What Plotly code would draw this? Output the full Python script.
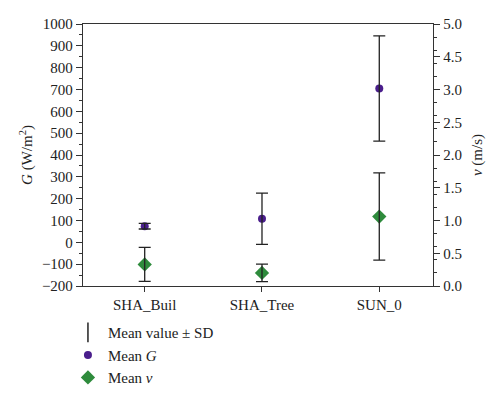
import plotly.graph_objects as go

categories = ["SHA_Buil", "SHA_Tree", "SUN_0"]
g_mean = [74, 108, 705]
g_sd = [13, 117, 241]
v_mean = [0.33, 0.20, 1.06]
v_sd = [0.26, 0.133, 0.666]

v_tickvals = [0, 0.5, 1.0, 1.5, 2.0, 2.5, 3.0, 3.5, 4.0]
v_ticktext = ["0.0", "0.5", "1.0", "1.5", "2.0", "2.5", "3.0", "4.5", "5.0"]

FONT = "Liberation Serif"
PURPLE = "#4a1e8c"
GREEN = "#2e8b3c"
BAR = "#222222"
FS = 15

fig = go.Figure()

fig.add_trace(go.Scatter(x=categories, y=g_mean, mode="markers", name="Mean <i>G</i>",
                         marker=dict(color=PURPLE, size=8, symbol="circle"),
                         yaxis="y", legendrank=2))
fig.add_trace(go.Scatter(x=categories, y=v_mean, mode="markers", name="Mean <i>v</i>",
                         marker=dict(color=GREEN, size=11, symbol="diamond"),
                         yaxis="y2", legendrank=3))
# error bars drawn on top of markers
fig.add_trace(go.Scatter(x=categories, y=g_mean, mode="markers", name="Mean value ± SD",
                         marker=dict(color=BAR, size=12, opacity=0),
                         error_y=dict(type="data", array=g_sd, visible=True, color=BAR,
                                      thickness=1.3, width=6),
                         yaxis="y", showlegend=False, hoverinfo="skip"))
fig.add_trace(go.Scatter(x=categories, y=v_mean, mode="markers", name="Mean value ± SD",
                         marker=dict(color=BAR, size=12, opacity=0),
                         error_y=dict(type="data", array=v_sd, visible=True, color=BAR,
                                      thickness=1.3, width=6),
                         yaxis="y2", showlegend=False, hoverinfo="skip"))
# legend entry for error bars
fig.add_trace(go.Scatter(x=[None], y=[None], mode="markers", name="Mean value ± SD",
                         marker=dict(color=BAR, size=14, symbol="line-ns-open",
                                     line=dict(width=1.5, color=BAR)),
                         legendrank=1))

axis_common = dict(showline=True, linecolor="#333333", linewidth=1.3,
                   ticks="outside", tickcolor="#333333", showgrid=False,
                   zeroline=False, tickfont=dict(size=FS), automargin=False)

fig.update_layout(
    width=500, height=399,
    margin=dict(l=83, r=67, t=24, b=113, autoexpand=False),
    paper_bgcolor="white", plot_bgcolor="white",
    font=dict(family=FONT, size=FS, color="#222222"),
    showlegend=True,
    legend=dict(x=-0.043, y=-0.115, xanchor="left", yanchor="top",
                bgcolor="rgba(0,0,0,0)", font=dict(size=FS, family=FONT),
                tracegroupgap=0, itemwidth=30),
    xaxis=dict(range=[-0.526, 2.458], mirror=True, ticklen=5, **axis_common),
    yaxis=dict(range=[-200, 1000], tickmode="linear", tick0=-200, dtick=100, ticklen=6,
               minor=dict(dtick=50, ticks="outside", ticklen=3, tickcolor="#333333"),
               title=dict(text="<i>G</i> (W/m<sup>2</sup>)", standoff=5, font=dict(size=FS)),
               **axis_common),
    yaxis2=dict(range=[0, 4], overlaying="y", side="right",
                tickmode="array", tickvals=v_tickvals, ticktext=v_ticktext, ticklen=6,
                minor=dict(dtick=0.2, tick0=0, ticks="outside", ticklen=3, tickcolor="#333333"),
                title=dict(text="<i>v</i> (m/s)", standoff=10, font=dict(size=FS)),
                **axis_common),
)

fig.write_html("out.html", config={"displayModeBar": False},
               post_script="document.body.style.margin='0px';")
